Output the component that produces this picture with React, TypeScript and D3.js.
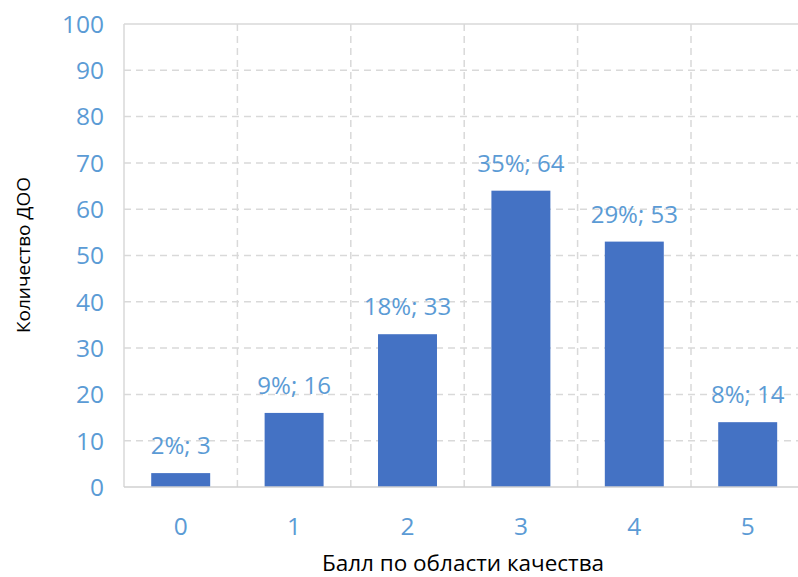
import React from "react";
import * as d3 from "d3";

const categories = ["0", "1", "2", "3", "4", "5"];
const values = [3, 16, 33, 64, 53, 14];
const percents = ["2%", "9%", "18%", "35%", "29%", "8%"];
const yTicks = [0, 10, 20, 30, 40, 50, 60, 70, 80, 90, 100];

const W = 798;
const H = 577;
const left = 124;
const top = 24;
const bottom = 487;
const step = 113.4;
const right = left + step * categories.length;
const font = "'Open Sans', sans-serif";
const blue = "#5B9BD5";

export default function App() {
  const x = d3
    .scaleBand<string>()
    .domain(categories)
    .range([left, right])
    .paddingInner(0.48)
    .paddingOuter(0.24);
  const y = d3.scaleLinear().domain([0, 100]).range([bottom, top]);
  const boundaries = categories.slice(1).map((c) => (x(c) as number) - (x.step() - x.bandwidth()) / 2);

  return (
    <svg
      width={W}
      height={H}
      style={{ position: "absolute", left: 0, top: 0, background: "#fff" }}
      fontFamily={font}
    >
      <rect x={0} y={0} width={W} height={H} fill="#fff" />
      {yTicks.slice(1, -1).map((t) => (
        <line key={"h" + t} x1={left} x2={right} y1={y(t)} y2={y(t)} stroke="#D9D9D9" strokeWidth={1.5} strokeDasharray="7,5" />
      ))}
      {boundaries.map((bx, i) => (
        <line key={"v" + i} x1={bx} x2={bx} y1={top} y2={bottom} stroke="#D9D9D9" strokeWidth={1.5} strokeDasharray="7,5" />
      ))}
      <line x1={left} x2={right} y1={y(100)} y2={y(100)} stroke="#D9D9D9" strokeWidth={1.5} />
      <line x1={left} x2={left} y1={top} y2={bottom} stroke="#D9D9D9" strokeWidth={1.5} />
      {values.map((v, i) => (
        <rect key={"b" + i} x={x(categories[i])} y={y(v)} width={x.bandwidth()} height={y(0) - y(v)} fill="#4472C4" />
      ))}
      <line x1={left} x2={right} y1={bottom} y2={bottom} stroke="#D0D0D0" strokeWidth={1.5} />
      {values.map((v, i) => (
        <text
          key={"l" + i}
          x={(x(categories[i]) as number) + x.bandwidth() / 2}
          y={y(v) - 19}
          textAnchor="middle"
          fontSize={24}
          fill={blue}
        >
          {percents[i] + "; " + v}
        </text>
      ))}
      {yTicks.map((t) => (
        <text key={"y" + t} x={104} y={y(t)} dy="0.36em" textAnchor="end" fontSize={24.5} fill={blue}>
          {t}
        </text>
      ))}
      {categories.map((c) => (
        <text key={"x" + c} x={(x(c) as number) + x.bandwidth() / 2} y={535} textAnchor="middle" fontSize={24.5} fill={blue}>
          {c}
        </text>
      ))}
      <text x={463} y={571} textAnchor="middle" fontSize={22.5} fill="#000">
        Балл по области качества
      </text>
      <text transform="translate(30,255) rotate(-90)" textAnchor="middle" fontSize={19} fill="#000">
        Количество ДОО
      </text>
    </svg>
  );
}
